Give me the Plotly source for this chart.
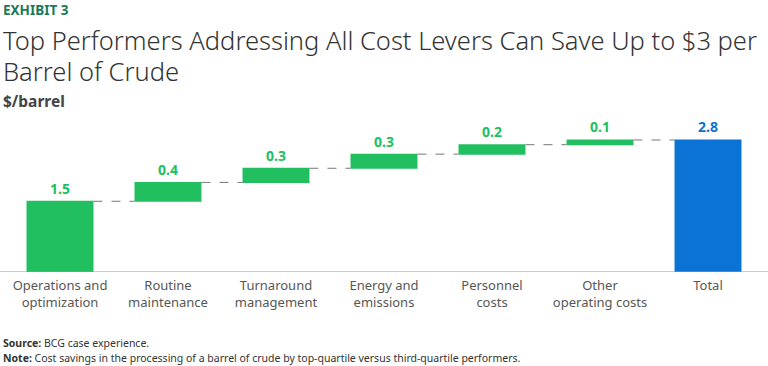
import plotly.graph_objects as go

categories = ["Operations and<br>optimization", "Routine<br>maintenance", "Turnaround<br>management",
              "Energy and<br>emissions", "Personnel<br>costs", "Other<br>operating costs", "Total"]
values = [1.5, 0.4, 0.3, 0.3, 0.2, 0.1, 2.8]
measures = ["relative"] * 6 + ["total"]
labels = ["1.5", "0.4", "0.3", "0.3", "0.2", "0.1", "2.8"]

GREEN = "#21BF5F"
BLUE = "#0B73D6"
FONT = "Noto Sans"

W, H = 768, 366
mt, mb, ml, mr = 110, 94, 6, 6
ph = H - mt - mb

def py(ypx):
    return (H - mb - ypx) / ph

label_colors = [GREEN] * 6 + [BLUE]

fig = go.Figure(go.Waterfall(
    x=categories, y=values, measure=measures,
    text=["<b>%s</b>" % t for t in labels], textposition="outside",
    textfont=dict(family=FONT, size=14, color=label_colors),
    increasing=dict(marker=dict(color=GREEN)),
    totals=dict(marker=dict(color=BLUE)),
    connector=dict(line=dict(color="#777777", width=1, dash="dash")),
    cliponaxis=False,
))

fig.update_layout(
    width=W, height=H, margin=dict(t=mt, b=mb, l=ml, r=mr),
    paper_bgcolor="white", plot_bgcolor="white",
    showlegend=False, waterfallgap=0.38,
    font=dict(family=FONT, color="#555555"),
    xaxis=dict(tickfont=dict(size=13, color="#575757"), showline=False, showgrid=False,
               ticks="", zeroline=False, ticklabelstandoff=4),
    yaxis=dict(range=[0, 3.436], visible=False, showgrid=False, zeroline=False),
)

fig.add_shape(type="line", xref="paper", yref="y", x0=-0.01, x1=1.01, y0=0, y1=0,
              line=dict(color="#9a9a9a", width=1.2))

ann = [
    dict(text="<b>EXHIBIT 3</b>", y=py(10), size=13.5, color="#197A56", weight=None),
    dict(text="Top Performers Addressing All Cost Levers Can Save Up to $3 per", y=py(40), size=25.5, color="#333333", weight=300),
    dict(text="Barrel of Crude", y=py(71), size=25.5, color="#333333", weight=300),
    dict(text="<b>$/barrel</b>", y=py(101), size=15.5, color="#444444", weight=None),
    dict(text="<b>Source:</b> BCG case experience.", y=py(343), size=10.5, color="#333333", weight=None),
    dict(text="<b>Note:</b> Cost savings in the processing of a barrel of crude by top-quartile versus third-quartile performers.", y=py(357.5), size=10.5, color="#333333", weight=None),
]
for a in ann:
    f = dict(family=FONT, size=a["size"], color=a["color"])
    if a["weight"]:
        f["weight"] = a["weight"]
    fig.add_annotation(text=a["text"], xref="paper", yref="paper", x=(-ml + 1) / (W - ml - mr), y=a["y"],
                       xanchor="left", yanchor="middle", showarrow=False, font=f)

fig.write_html("out.html", config={"displayModeBar": False},
               post_script="document.body.style.margin='0';document.body.style.overflow='hidden';")
